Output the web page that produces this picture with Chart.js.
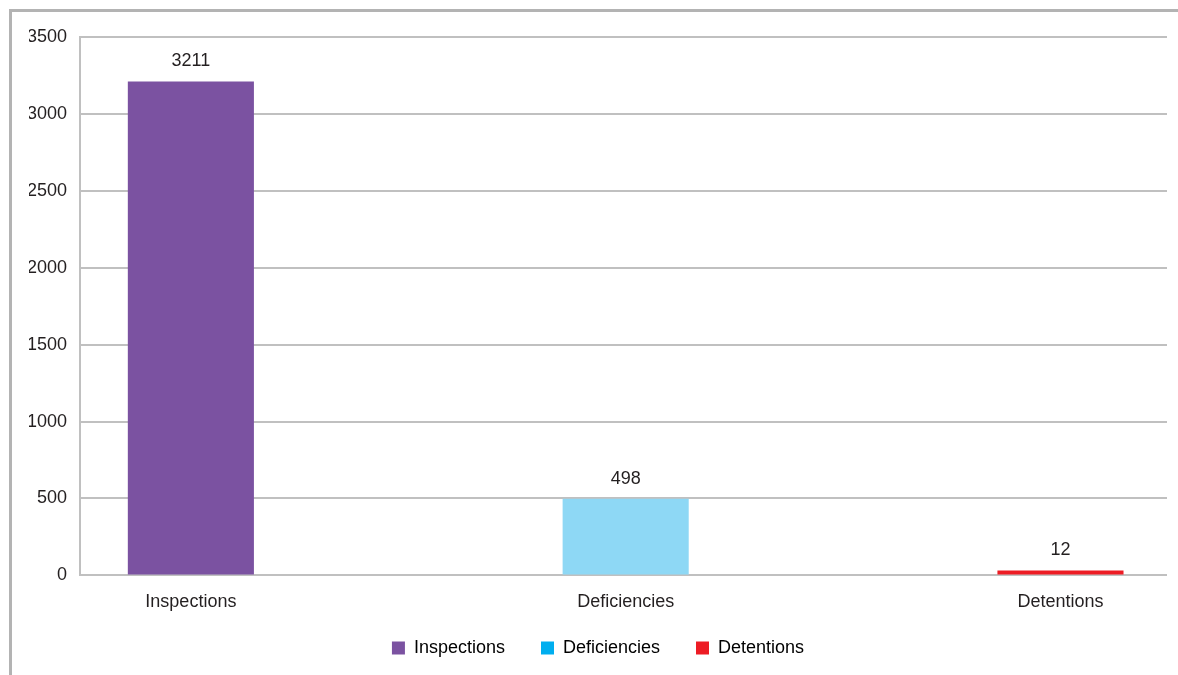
<!DOCTYPE html>
<html>
<head>
<meta charset="utf-8">
<script src="https://cdn.jsdelivr.net/npm/chart.js@4/dist/chart.umd.min.js"></script>
<style>
  html, body { margin: 0; padding: 0; background: #fff; }
  #wrap { position: relative; width: 1178px; height: 675px; }
  #frame {
    position: absolute; left: 9px; top: 9px; right: 0; bottom: 0;
    border-top: 3px solid #b3b3b3; border-left: 3px solid #b3b3b3;
    pointer-events: none;
  }
  canvas { position: absolute; left: 0; top: 0; }
</style>
</head>
<body>
<div id="wrap">
  <canvas id="inspChart"></canvas>
  <div id="frame"></div>
</div>
<script>
var categories = ["Inspections", "Deficiencies", "Detentions"];
var values = [3211, 498, 12];
var barColors = ["#7b52a1", "#8ed8f5", "#ed1c24"];
var legendColors = ["#7b52a1", "#00aeef", "#ed1c24"];
var yTicks = [0, 500, 1000, 1500, 2000, 2500, 3000, 3500];

var canvas = document.getElementById("inspChart");
canvas.width = 1178;
canvas.height = 675;
var ctx = canvas.getContext("2d");

Chart.defaults.font.family = "'Liberation Sans', Arial, sans-serif";
Chart.defaults.font.size = 18;
Chart.defaults.color = "#231f20";

// value printed above each bar
var valueLabels = {
  id: "valueLabels",
  afterDatasetsDraw: function (chart) {
    var c = chart.ctx;
    var meta = chart.getDatasetMeta(0);
    c.save();
    c.font = "18px 'Liberation Sans', Arial, sans-serif";
    c.fillStyle = "#231f20";
    c.textAlign = "center";
    c.textBaseline = "middle";
    meta.data.forEach(function (bar, i) {
      c.fillText(String(values[i]), bar.x, bar.y - 20);
    });
    c.restore();
  },
};

// pull the legend row a little closer to the axis labels
var legendNudge = {
  id: "legendNudge",
  afterLayout: function (chart) {
    if (chart.legend) {
      chart.legend.top -= 8;
      chart.legend.bottom -= 8;
    }
  },
};

var inspChart = new Chart(ctx, {
  type: "bar",
  data: {
    datasets: [
      {
        label: "Count",
        data: values.map(function (v, i) {
          return { x: i, y: v };
        }),
        backgroundColor: barColors,
        borderWidth: 0,
        barPercentage: 0.29,
        categoryPercentage: 1,
        minBarLength: 5,
      },
    ],
  },
  options: {
    responsive: false,
    animation: false,
    layout: {
      padding: { top: 37, right: 11, left: 29, bottom: 0 },
    },
    scales: {
      x: {
        type: "linear",
        offset: false,
        min: -0.255,
        max: 2.245,
        afterFit: function (scale) {
          scale.height -= 10;
        },
        grid: { display: false },
        border: { display: false },
        ticks: {
          stepSize: 1,
          includeBounds: false,
          padding: 8,
          maxRotation: 0,
          autoSkip: false,
          callback: function (v) {
            return Number.isInteger(v) ? categories[v] : "";
          },
        },
      },
      y: {
        min: 0,
        max: 3500,
        afterFit: function (scale) {
          scale.width = 51;
        },
        afterBuildTicks: function (scale) {
          scale.ticks = yTicks.map(function (v) {
            return { value: v };
          });
        },
        grid: { color: "#c0c0c0", lineWidth: 2, drawTicks: false },
        border: { color: "#c0c0c0", width: 2 },
        ticks: {
          padding: 13,
          callback: function (v) {
            return String(v);
          },
        },
      },
    },
    plugins: {
      legend: {
        position: "bottom",
        labels: {
          boxWidth: 13,
          boxHeight: 13,
          padding: 36,
          generateLabels: function () {
            return categories.map(function (name, i) {
              return {
                text: name,
                fillStyle: legendColors[i],
                strokeStyle: legendColors[i],
                lineWidth: 0,
                hidden: false,
                index: i,
              };
            });
          },
        },
      },
      tooltip: { enabled: false },
    },
  },
  plugins: [valueLabels, legendNudge],
});
</script>
</body>
</html>
